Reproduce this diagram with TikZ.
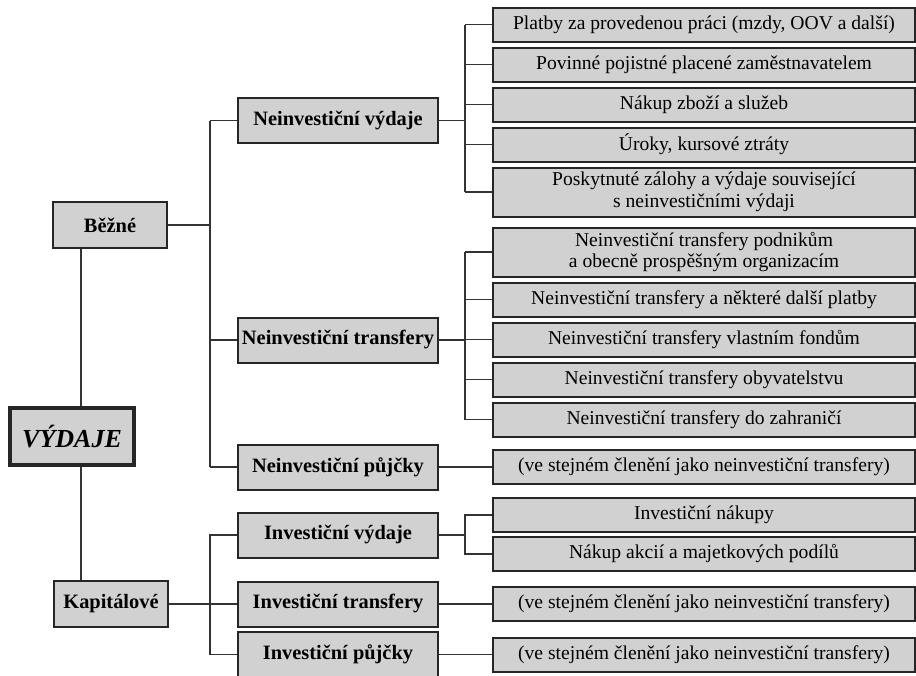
\documentclass[tikz,border=0pt]{standalone}
\usepackage{fontspec}
\setmainfont{Liberation Serif}
\usetikzlibrary{positioning,calc}
\tikzset{
    box/.style={rectangle, draw=black!85, line width=1pt, fill=black!18, inner sep=1pt, text centered},
    leaf/.style={box, minimum width=211pt, minimum height=17pt, align=center, font=\fontsize{9.8}{10.8}\selectfont},
    tall/.style={leaf, minimum height=24.5pt},
    group/.style={box, minimum width=100pt, minimum height=22.5pt, font=\fontsize{10.2}{11}\selectfont\bfseries},
    side/.style={box, minimum width=57pt, minimum height=23pt, font=\fontsize{10.2}{11}\selectfont\bfseries},
    root/.style={box, line width=1.6pt, minimum width=62pt, minimum height=28.5pt, font=\fontsize{13}{14}\selectfont\bfseries\itshape},
    line/.style={draw=black!80, line width=0.7pt},
}
\begin{document}
\begin{tikzpicture}
        [x=0.5pt, y=-0.5pt, node distance=2pt]

        \useasboundingbox (0,0) rectangle (916,675);

        % left side
        \node[root] (vydaje) at (72,436.5) {VÝDAJE};
        \node[side] (bezne) at (110,225) {Běžné};
        \node[side] (kap) at (111,604) {Kapitálové};

        % middle column
        \node[group] (n1) at (338,120.5) {Neinvestiční výdaje};
        \node[group] (n2) at (338,340) {Neinvestiční transfery};
        \node[group] (n3) at (338,467) {Neinvestiční půjčky};
        \node[group] (i1) at (338,535) {Investiční výdaje};
        \node[group] (i2) at (338,604) {Investiční transfery};
        \node[group] (i3) at (338,654.5) {Investiční půjčky};

        % right column
        \node[leaf] (a1) at (704,24.5) {Platby za provedenou práci (mzdy, OOV a další)};
        \node[leaf, below=of a1] (a2) {Povinné pojistné placené zaměstnavatelem};
        \node[leaf, below=of a2] (a3) {Nákup zboží a služeb};
        \node[leaf, below=of a3] (a4) {Úroky, kursové ztráty};
        \node[tall, below=of a4] (a5) {Poskytnuté zálohy a výdaje související\\s neinvestičními výdaji};

        \node[tall] (b1) at (704,252) {Neinvestiční transfery podnikům\\a obecně prospěšným organizacím};
        \node[leaf, below=of b1] (b2) {Neinvestiční transfery a některé další platby};
        \node[leaf, below=of b2] (b3) {Neinvestiční transfery vlastním fondům};
        \node[leaf, below=of b3] (b4) {Neinvestiční transfery obyvatelstvu};
        \node[leaf, below=of b4] (b5) {Neinvestiční transfery do zahraničí};

        \node[leaf] (c1) at (704,467) {(ve stejném členění jako neinvestiční transfery)};
        \node[leaf] (d1) at (704,515) {Investiční nákupy};
        \node[leaf, below=1.5pt of d1] (d2) {Nákup akcií a majetkových podílů};
        \node[leaf] (e1) at (704,604) {(ve stejném členění jako neinvestiční transfery)};
        \node[leaf] (f1) at (704,654.5) {(ve stejném členění jako neinvestiční transfery)};

        % spines
        \coordinate (trunk) at (81,0);
        \coordinate (sA) at (210,0);
        \coordinate (sB) at (465,0);

        \draw[line] (bezne.south -| trunk) -- (vydaje.north -| trunk);
        \draw[line] (vydaje.south -| trunk) -- (kap.north -| trunk);

        \draw[line] (bezne.east) -- (bezne.east -| sA);
        \draw[line] (n1.west -| sA) -- (n3.west -| sA);
        \foreach \c in {n1,n2,n3}
            \draw[line] (\c.west) -- (\c.west -| sA);
        \draw[line] (kap.east) -- (i2.west);
        \draw[line] (i1.west) -| (sA |- i3.west) -- (i3.west);

        \draw[line] (n1.east) -- (n1.east -| sB);
        \draw[line] (a1.west -| sB) -- (a5.west -| sB);
        \foreach \i in {1,...,5}
            \draw[line] (a\i.west) -- (a\i.west -| sB);

        \draw[line] (n2.east) -- (n2.east -| sB);
        \draw[line] (b1.west -| sB) -- (b5.west -| sB);
        \foreach \i in {1,...,5}
            \draw[line] (b\i.west) -- (b\i.west -| sB);

        \draw[line] (n3.east) -- (c1.west);
        \draw[line] (i1.east) -- (i1.east -| sB);
        \draw[line] (d1.west) -| (sB |- d2.west) -- (d2.west);
        \draw[line] (i2.east) -- (e1.west);
        \draw[line] (i3.east) -- (f1.west);

    \end{tikzpicture}
\end{document}
